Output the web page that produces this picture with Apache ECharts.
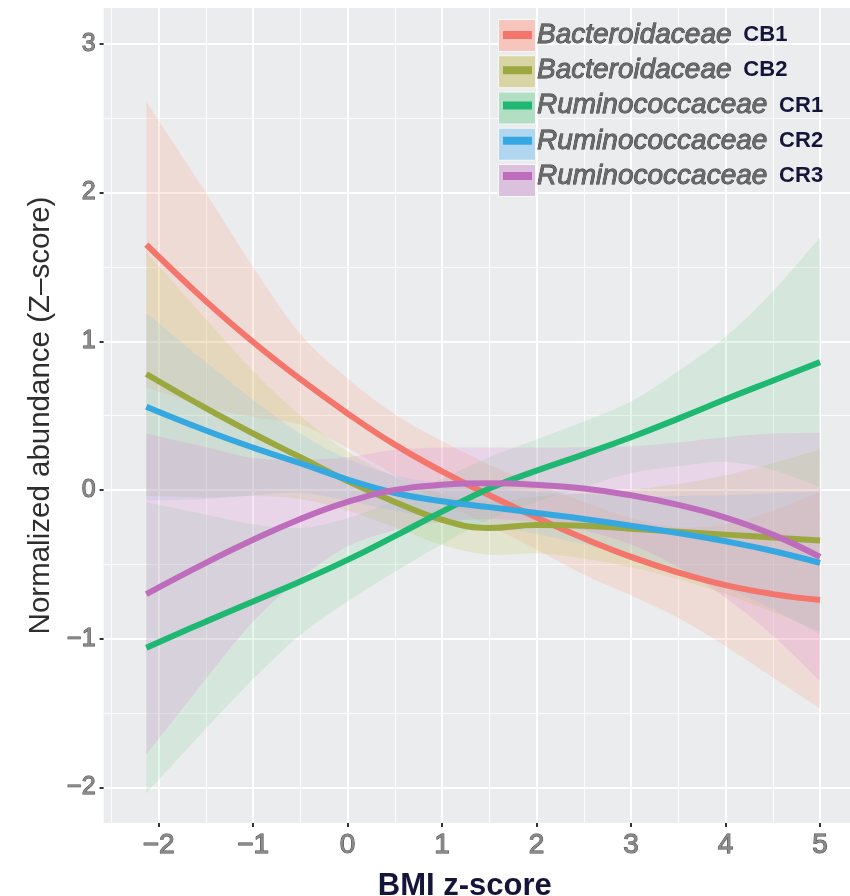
<!DOCTYPE html>
<html>
<head>
<meta charset="utf-8">
<script src="https://cdn.jsdelivr.net/npm/echarts@6/dist/echarts.min.js"></script>
<style>
html,body{margin:0;padding:0;background:#ffffff;}
#chart{width:850px;height:896px;}
</style>
</head>
<body>
<div id="chart"></div>
<script>
// ---------- data ----------
const bmi = [-2.13, -1.5, -1, -0.5, 0, 0.5, 1, 1.5, 2, 2.5, 3, 3.5, 4, 4.5, 5];

const familyNames = ['Bacteroidaceae', 'Bacteroidaceae', 'Ruminococcaceae', 'Ruminococcaceae', 'Ruminococcaceae'];
const clusterCodes = ['CB1', 'CB2', 'CR1', 'CR2', 'CR3'];

const cb1Fit   = [1.65, 1.27, 0.995, 0.745, 0.515, 0.305, 0.125, -0.035, -0.185, -0.325, -0.45, -0.555, -0.64, -0.70, -0.74];
const cb1Upper = [2.61, 2.00, 1.50, 1.05, 0.75, 0.51, 0.33, 0.17, 0.04, -0.08, -0.19, -0.25, -0.23, -0.14, -0.01];
const cb1Lower = [0.69, 0.56, 0.49, 0.44, 0.28, 0.10, -0.08, -0.24, -0.40, -0.57, -0.71, -0.86, -1.05, -1.26, -1.47];

const cb2Fit   = [0.78, 0.55, 0.38, 0.22, 0.06, -0.08, -0.20, -0.255, -0.235, -0.24, -0.26, -0.28, -0.30, -0.32, -0.34];
const cb2Upper = [1.60, 1.15, 0.80, 0.50, 0.26, 0.09, -0.03, -0.075, -0.045, -0.02, 0.00, 0.04, 0.10, 0.18, 0.27];
const cb2Lower = [-0.04, -0.05, -0.04, -0.06, -0.14, -0.25, -0.37, -0.435, -0.425, -0.46, -0.52, -0.60, -0.70, -0.82, -0.95];

const cr1Fit   = [-1.06, -0.885, -0.75, -0.615, -0.47, -0.31, -0.145, 0.01, 0.13, 0.24, 0.355, 0.48, 0.61, 0.735, 0.86];
const cr1Upper = [-0.08, -0.165, -0.23, -0.255, -0.19, -0.07, 0.075, 0.22, 0.34, 0.46, 0.595, 0.80, 1.03, 1.335, 1.70];
const cr1Lower = [-2.04, -1.605, -1.27, -0.975, -0.75, -0.55, -0.365, -0.20, -0.08, 0.02, 0.115, 0.16, 0.19, 0.135, 0.02];

const cr2Fit   = [0.56, 0.40, 0.285, 0.18, 0.07, -0.02, -0.075, -0.115, -0.155, -0.195, -0.24, -0.29, -0.345, -0.41, -0.49];
const cr2Upper = [1.19, 0.86, 0.605, 0.38, 0.21, 0.10, 0.045, 0.015, -0.015, -0.025, -0.04, -0.04, -0.035, -0.02, -0.01];
const cr2Lower = [-0.07, -0.06, -0.035, -0.02, -0.07, -0.14, -0.195, -0.245, -0.295, -0.365, -0.44, -0.54, -0.655, -0.80, -0.97];

const cr3Fit   = [-0.70, -0.49, -0.335, -0.195, -0.08, 0.00, 0.035, 0.045, 0.035, 0.01, -0.035, -0.10, -0.185, -0.30, -0.45];
const cr3Upper = [0.38, 0.29, 0.215, 0.205, 0.22, 0.27, 0.285, 0.285, 0.285, 0.29, 0.295, 0.32, 0.355, 0.38, 0.385];
const cr3Lower = [-1.78, -1.27, -0.885, -0.595, -0.38, -0.27, -0.215, -0.195, -0.215, -0.27, -0.365, -0.52, -0.725, -0.98, -1.285];

const xTicks = [-2, -1, 0, 1, 2, 3, 4, 5];
const xMinorTicks = [-2.5, -1.5, -0.5, 0.5, 1.5, 2.5, 3.5, 4.5];
const yTicks = [-2, -1, 0, 1, 2, 3];
const yMinorTicks = [-1.5, -0.5, 0.5, 1.5, 2.5];

// ---------- styling ----------
const lineColors = ['#F4756C', '#9AA83F', '#1FB873', '#35A8E2', '#BE6DBC'];
const bandColors = ['rgba(255,156,118,0.20)', 'rgba(190,201,78,0.20)', 'rgba(125,216,148,0.20)',
                    'rgba(130,196,238,0.20)', 'rgba(220,126,208,0.20)'];
const keyColors = ['#F6C5BC', '#D6D5A3', '#B2DEC3', '#B1D6EF', '#DCC1DE'];

const fits = [cb1Fit, cb2Fit, cr1Fit, cr2Fit, cr3Fit];
const uppers = [cb1Upper, cb2Upper, cr1Upper, cr2Upper, cr3Upper];
const lowers = [cb1Lower, cb2Lower, cr1Lower, cr2Lower, cr3Lower];
const seriesNames = familyNames.map((f, i) => f + ' ' + clusterCodes[i]);

const xMin = -2.582, xMax = 5.317, yMin = -2.239, yMax = 3.241;

function crSegments(p) {
  let d = '';
  for (let i = 0; i < p.length - 1; i++) {
    const p0 = p[i - 1] || p[i], p1 = p[i], p2 = p[i + 1], p3 = p[i + 2] || p[i + 1];
    const c1x = p1[0] + (p2[0] - p0[0]) / 6, c1y = p1[1] + (p2[1] - p0[1]) / 6;
    const c2x = p2[0] - (p3[0] - p1[0]) / 6, c2y = p2[1] - (p3[1] - p1[1]) / 6;
    d += ' C' + c1x + ',' + c1y + ' ' + c2x + ',' + c2y + ' ' + p2[0] + ',' + p2[1];
  }
  return d;
}

function minusFmt(v) { return v < 0 ? '\u2212' + Math.abs(v) : String(v); }

const series = [];
for (let g = 0; g < 5; g++) {
  const lo = lowers[g], hi = uppers[g];
  series.push({
    type: 'custom',
    name: 'band ' + clusterCodes[g],
    xAxisIndex: 0, yAxisIndex: 0,
    silent: true,
    data: bmi.map((x, i) => [x, lo[i], hi[i]]),
    encode: { x: 0, y: [1, 2] },
    renderItem: function (params, api) {
      if (params.dataIndex !== 0) return null;
      const up = bmi.map((x, i) => api.coord([x, hi[i]]));
      const dn = bmi.map((x, i) => api.coord([x, lo[i]])).reverse();
      const d = 'M' + up[0][0] + ',' + up[0][1] + crSegments(up) +
                ' L' + dn[0][0] + ',' + dn[0][1] + crSegments(dn) + ' Z';
      return { type: 'path', shape: { pathData: d }, style: { fill: bandColors[g] } };
    }
  });
  series.push({
    type: 'line',
    name: seriesNames[g],
    xAxisIndex: 0, yAxisIndex: 0,
    data: bmi.map((x, i) => [x, fits[g][i]]),
    smooth: 0.45,
    symbol: 'none',
    silent: true,
    itemStyle: { color: lineColors[g] },
    lineStyle: { color: lineColors[g], width: 6 }
  });
}

const tickText = {
  fontFamily: 'Liberation Sans',
  color: '#8a8a8a',
  textBorderColor: '#454545',
  textBorderWidth: 1
};

const option = {
  animation: false,
  backgroundColor: '#ffffff',
  grid: {
    left: 103.6, right: 0, top: 8, bottom: 73,
    outerBoundsMode: 'none',
    containLabel: false,
    show: true, backgroundColor: '#EBECEE', borderWidth: 0
  },
  xAxis: [
    {
      type: 'value', min: xMin, max: xMax, position: 'bottom',
      axisLine: { show: false, onZero: false },
      axisTick: { show: true, length: 4, customValues: xTicks, lineStyle: { color: '#333', width: 2 } },
      axisLabel: Object.assign({ customValues: xTicks, formatter: minusFmt, fontSize: 28, margin: 8 }, tickText),
      splitLine: { show: true, lineStyle: { color: '#ffffff', width: 2 } },
      name: 'BMI z-score', nameLocation: 'middle', nameGap: 48,
      nameTextStyle: { fontFamily: 'Liberation Sans', fontWeight: 'bold', fontSize: 31, color: '#15153a', padding: [0, 24, 0, 0] }
    },
    {
      type: 'value', min: xMin, max: xMax, position: 'bottom',
      axisLine: { show: false, onZero: false },
      axisTick: { show: false, customValues: xMinorTicks },
      axisLabel: { show: false },
      splitLine: { show: true, lineStyle: { color: '#ffffff', width: 1.2, opacity: 0.85 } }
    }
  ],
  yAxis: [
    {
      type: 'value', min: yMin, max: yMax, position: 'left',
      axisLine: { show: false, onZero: false },
      axisTick: { show: true, length: 4, customValues: yTicks, lineStyle: { color: '#333', width: 2 } },
      axisLabel: Object.assign({ customValues: yTicks, formatter: minusFmt, fontSize: 25, margin: 8 }, tickText),
      splitLine: { show: true, lineStyle: { color: '#ffffff', width: 2 } },
      name: 'Normalized abundance (Z\u2013score)', nameLocation: 'middle', nameGap: 46, nameRotate: 90,
      nameTextStyle: { fontFamily: 'Liberation Sans', fontSize: 29.5, color: '#2e2e2e' }
    },
    {
      type: 'value', min: yMin, max: yMax, position: 'left',
      axisLine: { show: false, onZero: false },
      axisTick: { show: false, customValues: yMinorTicks },
      axisLabel: { show: false },
      splitLine: { show: true, lineStyle: { color: '#ffffff', width: 1.2, opacity: 0.85 } }
    }
  ],
  legend: [
    {
      orient: 'vertical', left: 498, top: 19, padding: 0,
      itemWidth: 37, itemHeight: 32, itemGap: 3.25,
      icon: 'rect',
      selectedMode: false,
      data: seriesNames.map((n, i) => ({ name: n, itemStyle: { color: keyColors[i], borderColor: '#f7f7f7', borderWidth: 1 } })),
      formatter: function () { return ''; },
      textStyle: { fontSize: 10 }
    },
    {
      orient: 'vertical', left: 503, top: 19, padding: 0,
      itemWidth: 29, itemHeight: 8, itemGap: 3.25, itemTextGap: 10,
      icon: 'rect',
      selectedMode: false,
      data: seriesNames,
      formatter: function (name) {
        const i = seriesNames.indexOf(name);
        return '{fam|' + familyNames[i] + '} {code|' + clusterCodes[i] + '}';
      },
      textStyle: {
        fontSize: 28, lineHeight: 32, fontFamily: 'Liberation Sans',
        rich: {
          fam: { fontStyle: 'italic', fontSize: 28, lineHeight: 32, fontFamily: 'Liberation Sans',
                 color: '#6a6a6a', textBorderColor: '#2a2a2a', textBorderWidth: 0.8 },
          code: { fontWeight: 'bold', fontSize: 22, lineHeight: 32, fontFamily: 'Liberation Sans',
                  color: '#15153a', padding: [0, 0, 0, 4] }
        }
      }
    }
  ],
  series: series
};

const chart = echarts.init(document.getElementById('chart'), null, { renderer: 'canvas' });
chart.setOption(option);
</script>
</body>
</html>
